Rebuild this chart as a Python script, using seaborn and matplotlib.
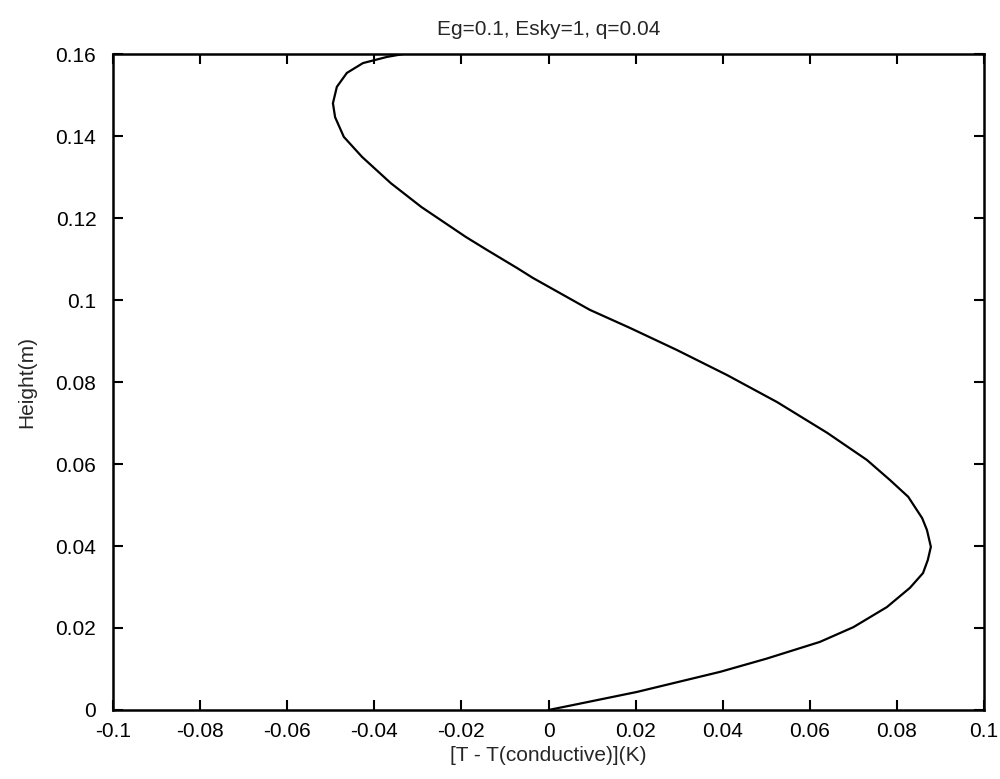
import numpy as np
import pandas as pd
import matplotlib
matplotlib.use("Agg")
import matplotlib.pyplot as plt
import seaborn as sns

# values
height = [0, 0.0012, 0.0044, 0.0093, 0.0125, 0.0166, 0.0202, 0.0251, 0.0298,
          0.0334, 0.0366, 0.0398, 0.0439, 0.0468, 0.052, 0.0561, 0.061,
          0.0676, 0.0751, 0.0817, 0.0878, 0.0932, 0.0976, 0.1054, 0.1078,
          0.1122, 0.1154, 0.1227, 0.1285, 0.1349, 0.1398, 0.1446, 0.148,
          0.152, 0.1554, 0.1578, 0.1593, 0.16]
dT = [0, 0.0056, 0.0203, 0.0394, 0.050, 0.0623, 0.070, 0.0777, 0.083,
      0.086, 0.0871, 0.0878, 0.0869, 0.0858, 0.0826, 0.0784, 0.0731,
      0.064, 0.0525, 0.041, 0.0295, 0.0187, 0.0095, -0.0036, -0.0072,
      -0.0141, -0.019, -0.0292, -0.0362, -0.0428, -0.0470, -0.049, -0.0495,
      -0.0486, -0.0463, -0.0426, -0.0371, -0.0334]
xticks = [-0.1, -0.08, -0.06, -0.04, -0.02, 0, 0.02, 0.04, 0.06, 0.08, 0.1]
xticklabels = ["-0.1", "-0.08", "-0.06", "-0.04", "-0.02", "0", "0.02", "0.04", "0.06", "0.08", "0.1"]
yticks = [0, 0.02, 0.04, 0.06, 0.08, 0.1, 0.12, 0.14, 0.16]
yticklabels = ["0", "0.02", "0.04", "0.06", "0.08", "0.1", "0.12", "0.14", "0.16"]

df = pd.DataFrame({"dT": dT, "height": height})

sns.set_style("ticks")
plt.rcParams["font.family"] = ["Liberation Sans", "DejaVu Sans"]

fig = plt.figure(figsize=(10, 7.79), dpi=100)
ax = fig.add_axes([0.113, 0.0886, 0.871, 0.842])
sns.lineplot(data=df, x="dT", y="height", sort=False, estimator=None,
             color="black", linewidth=1.6, ax=ax)

ax.set_xlim(-0.1, 0.1)
ax.set_ylim(0, 0.16)
ax.set_xticks(xticks)
ax.set_xticklabels(xticklabels)
ax.set_yticks(yticks)
ax.set_yticklabels(yticklabels)
ax.tick_params(direction="in", length=7, width=1.5, top=True, right=True,
               labelsize=15, colors="black")
ax.tick_params(axis="x", pad=9)
ax.tick_params(axis="y", pad=12)
for s in ax.spines.values():
    s.set_visible(True)
    s.set_linewidth(1.8)
    s.set_color("black")

ax.set_xlabel("[T - T(conductive)](K)", fontsize=15, labelpad=3)
ax.set_ylabel("Height(m)", fontsize=15, labelpad=14)
ax.set_title("Eg=0.1, Esky=1, q=0.04", fontsize=15, pad=14)

fig.savefig("out.png", dpi=100)
